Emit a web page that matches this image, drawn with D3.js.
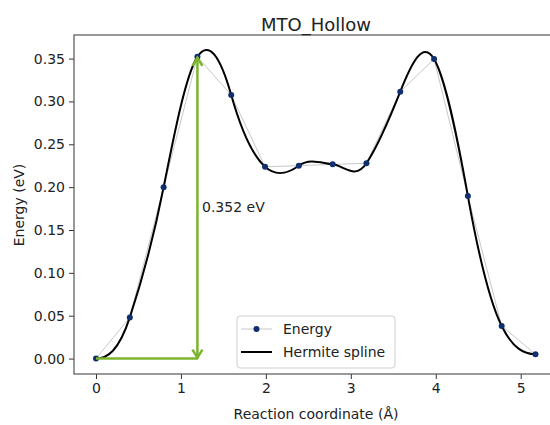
<!DOCTYPE html>
<html>
<head>
<meta charset="utf-8">
<script src="https://cdn.jsdelivr.net/npm/d3@7"></script>
<style>
  body { margin: 0; background: #fff; }
  text { font-family: "DejaVu Sans", sans-serif; fill: #222; }
</style>
</head>
<body>
<div id="chart"></div>
<script>
// NEB images: reaction coordinate, energy and the tangent used for the spline
var coords = [0, 0.398, 0.796, 1.194, 1.592, 1.99, 2.388, 2.786, 3.184, 3.582, 3.98, 4.378, 4.776, 5.174];
var energies = [0, 0.048, 0.1998, 0.352, 0.3075, 0.2238, 0.225, 0.2266, 0.2278, 0.3114, 0.3495, 0.1896, 0.038, 0.005];
var slopes = [0, 0.3, 0.5, 0.15, -0.35, -0.09, 0.07, -0.01, 0.15, 0.25, -0.17, -0.55, -0.2, 0];
var xTicks = [0, 1, 2, 3, 4, 5];
var yTicks = [0, 0.05, 0.1, 0.15, 0.2, 0.25, 0.3, 0.35];
var barrier = 0.352;
var barrierAt = 1.194;

var width = 550, height = 425;

var svg = d3.select("#chart").append("svg")
    .attr("width", width)
    .attr("height", height);

var x = d3.scaleLinear().domain([-0.259, 5.439]).range([74, 558]);
var y = d3.scaleLinear().domain([-0.018, 0.3775]).range([374, 35]);

// gray line between images
var line = d3.line()
    .x(function(d, i) { return x(coords[i]); })
    .y(function(d) { return y(d); });

svg.append("path")
    .attr("d", line(energies))
    .attr("fill", "none")
    .attr("stroke", "#c8c8c8")
    .attr("stroke-width", 1);

// hermite spline, each segment as a cubic bezier
var p = d3.path();
p.moveTo(x(coords[0]), y(energies[0]));
for (var i = 0; i < coords.length - 1; i++) {
    var h = coords[i + 1] - coords[i];
    p.bezierCurveTo(
        x(coords[i] + h / 3), y(energies[i] + slopes[i] * h / 3),
        x(coords[i + 1] - h / 3), y(energies[i + 1] - slopes[i + 1] * h / 3),
        x(coords[i + 1]), y(energies[i + 1]));
}
svg.append("path")
    .attr("d", p.toString())
    .attr("fill", "none")
    .attr("stroke", "#000")
    .attr("stroke-width", 2);

svg.selectAll("circle.pt")
    .data(energies)
    .enter()
    .append("circle")
    .attr("class", "pt")
    .attr("cx", function(d, i) { return x(coords[i]); })
    .attr("cy", function(d) { return y(d); })
    .attr("r", 3)
    .attr("fill", "#0f2f6e");

// barrier arrow
var green = "#7cb52c";
svg.append("line")
    .attr("x1", x(0)).attr("y1", y(0))
    .attr("x2", x(barrierAt)).attr("y2", y(0))
    .attr("stroke", green).attr("stroke-width", 2.5);
svg.append("line")
    .attr("x1", x(barrierAt)).attr("y1", y(0))
    .attr("x2", x(barrierAt)).attr("y2", y(barrier))
    .attr("stroke", green).attr("stroke-width", 2.5);
var ax = x(barrierAt);
svg.append("path")
    .attr("d", "M" + (ax - 5) + "," + (y(0) - 9) + "L" + ax + "," + (y(0) - 1) + "L" + (ax + 5) + "," + (y(0) - 9))
    .attr("fill", "none").attr("stroke", green).attr("stroke-width", 2.5);
svg.append("path")
    .attr("d", "M" + (ax - 5) + "," + (y(barrier) + 9) + "L" + ax + "," + (y(barrier) + 1) + "L" + (ax + 5) + "," + (y(barrier) + 9))
    .attr("fill", "none").attr("stroke", green).attr("stroke-width", 2.5);

svg.append("text")
    .attr("x", 202).attr("y", 212)
    .style("font-size", "14px")
    .text(barrier.toFixed(3) + " eV");

// axes
var xAxis = d3.axisBottom(x).tickValues(xTicks).tickSize(5).tickPadding(4).tickFormat(d3.format("d"));
var yAxis = d3.axisLeft(y).tickValues(yTicks).tickSize(5).tickPadding(4).tickFormat(d3.format(".2f"));

var gx = svg.append("g").attr("transform", "translate(0,374)").call(xAxis);
var gy = svg.append("g").attr("transform", "translate(74,0)").call(yAxis);
[gx, gy].forEach(function(g) {
    g.select(".domain").remove();
    g.selectAll("line").attr("stroke", "#333").attr("stroke-width", 1);
    g.selectAll("text").style("font-size", "14px").style("font-family", "DejaVu Sans").attr("fill", "#222");
});

// spines
svg.append("rect")
    .attr("x", 74).attr("y", 35)
    .attr("width", 484).attr("height", 339)
    .attr("fill", "none")
    .attr("stroke", "#555")
    .attr("stroke-width", 1.2);

svg.append("text")
    .attr("x", 316).attr("y", 31)
    .attr("text-anchor", "middle")
    .style("font-size", "18px")
    .text("MTO_Hollow");

svg.append("text")
    .attr("x", 316).attr("y", 419)
    .attr("text-anchor", "middle")
    .style("font-size", "14px")
    .text("Reaction coordinate (Å)");

svg.append("text")
    .attr("transform", "translate(24,205) rotate(-90)")
    .attr("text-anchor", "middle")
    .style("font-size", "14px")
    .text("Energy (eV)");

// legend
var lg = svg.append("g");
lg.append("rect")
    .attr("x", 237).attr("y", 316)
    .attr("width", 158).attr("height", 52)
    .attr("rx", 3)
    .attr("fill", "#fff").attr("fill-opacity", 0.8)
    .attr("stroke", "#d0d0d0");
lg.append("line").attr("x1", 241).attr("x2", 272).attr("y1", 329).attr("y2", 329)
    .attr("stroke", "#c8c8c8").attr("stroke-width", 1);
lg.append("circle").attr("cx", 256.5).attr("cy", 329).attr("r", 3).attr("fill", "#0f2f6e");
lg.append("text").attr("x", 283).attr("y", 334).style("font-size", "14px").text("Energy");
lg.append("line").attr("x1", 241).attr("x2", 272).attr("y1", 352).attr("y2", 352)
    .attr("stroke", "#000").attr("stroke-width", 2);
lg.append("text").attr("x", 283).attr("y", 357).style("font-size", "14px").text("Hermite spline");
</script>
</body>
</html>
